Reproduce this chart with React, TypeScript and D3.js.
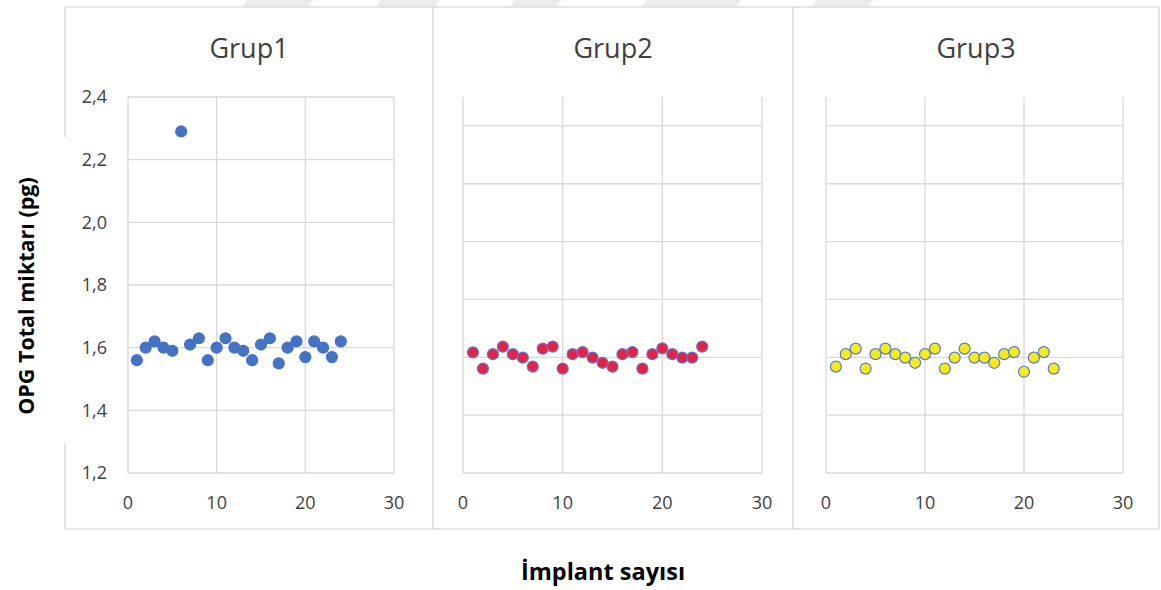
import React from "react";
import * as d3 from "d3";

// Implant index (1..24) per group
const grup1X = [1, 2, 3, 4, 5, 6, 7, 8, 9, 10, 11, 12, 13, 14, 15, 16, 17, 18, 19, 20, 21, 22, 23, 24];
const grup1Y = [1.56, 1.6, 1.62, 1.6, 1.59, 2.29, 1.61, 1.63, 1.56, 1.6, 1.63, 1.6, 1.59, 1.56, 1.61, 1.63, 1.55, 1.6, 1.62, 1.57, 1.62, 1.6, 1.57, 1.62];

const grup2X = [1, 2, 3, 4, 5, 6, 7, 8, 9, 10, 11, 12, 13, 14, 15, 16, 17, 18, 19, 20, 21, 22, 23, 24];
const grup2Y = [1.617, 1.561, 1.611, 1.637, 1.611, 1.599, 1.568, 1.63, 1.637, 1.561, 1.611, 1.618, 1.599, 1.581, 1.568, 1.611, 1.618, 1.561, 1.611, 1.631, 1.611, 1.599, 1.599, 1.637];

const grup3X = [1, 2, 3, 4, 5, 6, 7, 8, 9, 10, 11, 12, 13, 14, 15, 16, 17, 18, 19, 20, 21, 22, 23];
const grup3Y = [1.568, 1.611, 1.63, 1.561, 1.611, 1.63, 1.611, 1.599, 1.581, 1.611, 1.63, 1.561, 1.599, 1.63, 1.599, 1.599, 1.581, 1.611, 1.618, 1.55, 1.599, 1.618, 1.561];

const groupNames = ["Grup1", "Grup2", "Grup3"];
const xTicks = [0, 10, 20, 30];
const yTicks = [1.2, 1.4, 1.6, 1.8, 2.0, 2.2, 2.4];
const yMaxes = [2.4, 2.5, 2.5];

const yAxisTitle = "OPG Total miktarı (pg)";
const xAxisTitle = "İmplant sayısı";

const W = 1161;
const H = 590;
const FONT = "'Open Sans', 'Noto Sans', sans-serif";
const GRID = "#d9d9d9";
const TEXT = "#404040";

type Panel = {
  name: string;
  xs: number[];
  ys: number[];
  yMax: number;
  box: [number, number];
  plotX: [number, number];
  fill: string;
  stroke: string;
  r: number;
  showYLabels: boolean;
};

const panels: Panel[] = [
  { name: groupNames[0], xs: grup1X, ys: grup1Y, yMax: yMaxes[0], box: [65, 433], plotX: [128, 394], fill: "#4472C4", stroke: "#4472C4", r: 5.5, showYLabels: true },
  { name: groupNames[1], xs: grup2X, ys: grup2Y, yMax: yMaxes[1], box: [433, 793], plotX: [463, 762], fill: "#e3244a", stroke: "#5a78cc", r: 5.5, showYLabels: false },
  { name: groupNames[2], xs: grup3X, ys: grup3Y, yMax: yMaxes[2], box: [793, 1159], plotX: [826, 1123], fill: "#f4ec1a", stroke: "#5a78cc", r: 5.5, showYLabels: false },
];

const PLOT_TOP = 97;
const PLOT_BOTTOM = 473;
const CHART_TOP = 7;
const CHART_BOTTOM = 529;

// faint background marks along the top edge
const bgMarks: [number, number][] = [
  [247, 313],
  [380, 440],
  [514, 561],
  [646, 741],
  [816, 873],
];

function PanelView({ p }: { p: Panel }) {
  const x = d3.scaleLinear().domain([0, 30]).range(p.plotX);
  const y = d3.scaleLinear().domain([1.2, p.yMax]).range([PLOT_BOTTOM, PLOT_TOP]);
  const fmt = (v: number) => d3.format(".1f")(v).replace(".", ",");
  const cx = (p.box[0] + p.box[1]) / 2;
  return (
    <g>
      <text x={cx} y={58} textAnchor="middle" fontFamily={FONT} fontSize={27} fill={TEXT}>
        {p.name}
      </text>
      {yTicks.map((t) => (
        <line key={"h" + t} x1={p.plotX[0]} x2={p.plotX[1]} y1={y(t)} y2={y(t)} stroke={GRID} strokeWidth={1.3} />
      ))}
      {xTicks.map((t) => (
        <line key={"v" + t} x1={x(t)} x2={x(t)} y1={PLOT_TOP} y2={PLOT_BOTTOM} stroke={GRID} strokeWidth={1.3} />
      ))}
      {p.showYLabels &&
        yTicks.map((t) => (
          <text key={"yl" + t} x={107} y={y(t)} dy="0.35em" textAnchor="end" fontFamily={FONT} fontSize={18} fill={TEXT}>
            {fmt(t)}
          </text>
        ))}
      {xTicks.map((t) => (
        <text key={"xl" + t} x={x(t)} y={503} dy="0.35em" textAnchor="middle" fontFamily={FONT} fontSize={18} fill={TEXT}>
          {t}
        </text>
      ))}
      {p.xs.map((xv, i) => (
        <circle key={"pt" + i} cx={x(xv)} cy={y(p.ys[i])} r={p.r} fill={p.fill} stroke={p.stroke} strokeWidth={1.2} />
      ))}
    </g>
  );
}

export default function App() {
  return (
    <div style={{ position: "absolute", left: 0, top: 0 }}>
      <svg width={W} height={H} style={{ display: "block", background: "#fff" }}>
        {bgMarks.map(([a, b], i) => (
          <polygon key={"bg" + i} points={`${a},0 ${b},0 ${b - 4},${CHART_TOP} ${a - 4},${CHART_TOP}`} fill="#ececec" />
        ))}
        {/* chart frames */}
        {panels.map((p, i) => (
          <rect
            key={"frame" + i}
            x={p.box[0]}
            y={CHART_TOP}
            width={p.box[1] - p.box[0]}
            height={CHART_BOTTOM - CHART_TOP}
            fill="#fff"
            stroke={GRID}
            strokeWidth={1.3}
          />
        ))}
        {/* title box on the left covers part of the first frame */}
        <rect x={0} y={137} width={66.5} height={306} fill="#fff" />
        {panels.map((p, i) => (
          <PanelView key={"panel" + i} p={p} />
        ))}
        <text
          transform={`translate(26,296) rotate(-90)`}
          textAnchor="middle"
          dy="0.35em"
          fontFamily={FONT}
          fontWeight="bold"
          fontSize={21.5}
          fill="#000"
        >
          {yAxisTitle}
        </text>
        <text x={603} y={572} dy="0.35em" textAnchor="middle" fontFamily={FONT} fontWeight="bold" fontSize={23.5} fill="#000">
          {xAxisTitle}
        </text>
      </svg>
    </div>
  );
}
